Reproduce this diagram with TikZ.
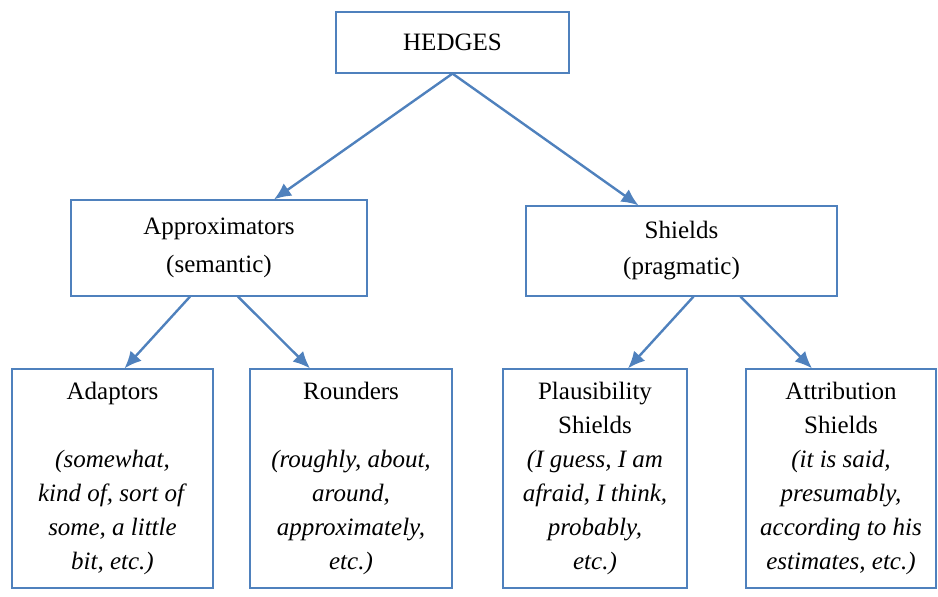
\documentclass[tikz,border=0pt]{standalone}
\usepackage{fontspec}
\setmainfont{Liberation Serif}
\usetikzlibrary{calc, arrows.meta, positioning}
\definecolor{hedgeblue}{RGB}{79,129,189}

\begin{document}
\begin{tikzpicture}[x=1pt, y=-1pt]
				\tikzstyle{box} = [draw=hedgeblue, line width=1.2pt, rectangle, align=center, inner sep=0pt, font=\fontsize{25}{34}\selectfont]
				\tikzstyle{link} = [draw, color=hedgeblue, line width=2.4pt, -{Latex[length=17pt, width=15pt]}]
				\useasboundingbox (0, 0) rectangle (938, 597);
				
				\node[box, minimum width=233, minimum height=61] 	at (452.5, 42.5) 	(hedges) 	{HEDGES};
				\node[box, minimum width=296, minimum height=96, font=\fontsize{25}{38}\selectfont] 	at (219, 248) 	(approx) 	{Approximators\\(semantic)};
				\node[box, minimum width=311, minimum height=90, font=\fontsize{25}{36}\selectfont] 	at (681.5, 251) 	(shields) 	{Shields\\(pragmatic)};
				
				\node[box, minimum width=201, minimum height=219] 	at (112.5, 478.5) 	(adapt) 	{Adaptors\\[34pt]\textit{(somewhat,}\\\textit{kind of, sort of}\\\textit{some, a little}\\\textit{bit, etc.)}};
				\node[box, minimum width=202, minimum height=219] 	at (351, 478.5) 	(round) 	{Rounders\\[34pt]\textit{(roughly, about,}\\\textit{around,}\\\textit{approximately,}\\\textit{etc.)}};
				\node[box, minimum width=184, minimum height=219] 	at (595, 478.5) 	(plaus) 	{Plausibility\\Shields\\\textit{(I guess, I am}\\\textit{afraid, I think,}\\\textit{probably,}\\\textit{etc.)}};
				\node[box, minimum width=190, minimum height=219] 	at (841, 478.5) 	(attrib) 	{Attribution\\Shields\\\textit{(it is said,}\\\textit{presumably,}\\\textit{according to his}\\\textit{estimates, etc.)}};
				
				\path
				(hedges.south)	edge[link]	([xshift=55pt]approx.north)
				(hedges.south)	edge[link]	([xshift=-43pt]shields.north)
				([xshift=-29pt]approx.south)	edge[link]	([xshift=12pt]adapt.north)
				([xshift=19pt]approx.south)	edge[link]	([xshift=-41pt]round.north)
				([xshift=12pt]shields.south)	edge[link]	([xshift=33pt]plaus.north)
				([xshift=59pt]shields.south)	edge[link]	([xshift=-29pt]attrib.north);
				\end{tikzpicture}
\end{document}
